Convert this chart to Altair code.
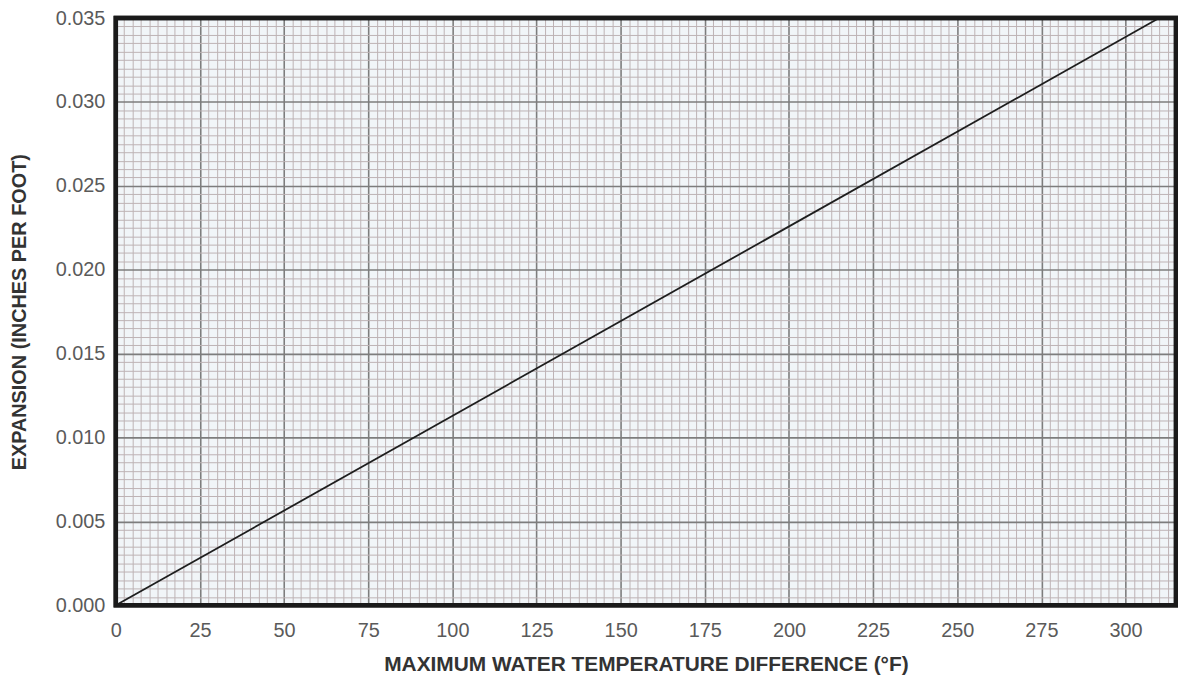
import altair as alt
import pandas as pd
import numpy as np

# Data
temp_diff = [0, 310]             # °F
expansion = [0.0, 0.035]         # inches per foot

# Axis grid positions (tick values)
x_grid = [round(v, 1) for v in np.arange(0, 315.01, 2.5)]
y_grid = [round(k * 0.0005, 4) for k in range(71)]

W, H = 1067, 591
FONT = "Liberation Sans"

df = pd.DataFrame({"t": temp_diff, "e": expansion})

x_axis = alt.Axis(
    values=x_grid,
    labelExpr="datum.value % 25 === 0 ? datum.label : ''",
    labelOverlap=False, labelFlush=False, labelBound=False,
    ticks=False, domain=False,
    grid=True,
    gridColor={"condition": {"test": "datum.value % 25 === 0", "value": "#7d7d7d"}, "value": "#bdb2b4"},
    gridWidth={"condition": {"test": "datum.value % 25 === 0", "value": 1.6}, "value": 1.0},
    labelFont=FONT, labelFontSize=20, labelColor="#5a5a5a", labelPadding=15,
    title="MAXIMUM WATER TEMPERATURE DIFFERENCE (°F)",
    titleFont=FONT, titleFontSize=21, titleFontWeight="bold", titleColor="#333333",
    titleX=W / 2, titleY=60, titleAlign="center", titleBaseline="middle",
)

y_test = "abs(datum.value*200 - round(datum.value*200)) < 1e-6"
y_axis = alt.Axis(
    values=y_grid,
    format=".3f",
    labelExpr=f"{y_test} ? datum.label : ''",
    labelOverlap=False, labelFlush=False, labelBound=False,
    ticks=False, domain=False,
    grid=True,
    gridColor={"condition": {"test": y_test, "value": "#7d7d7d"}, "value": "#bdb2b4"},
    gridWidth={"condition": {"test": y_test, "value": 1.6}, "value": 1.0},
    labelFont=FONT, labelFontSize=20, labelColor="#5a5a5a", labelPadding=11,
    title="EXPANSION (INCHES PER FOOT)",
    titleFont=FONT, titleFontSize=20, titleFontWeight="bold", titleColor="#333333",
    titleX=-97, titleY=H / 2, titleAngle=270, titleAlign="center", titleBaseline="middle",
)

line = alt.Chart(df).mark_line(color="#1e1e1e", strokeWidth=1.8).encode(
    x=alt.X("t:Q", scale=alt.Scale(domain=[0, 315], nice=False, zero=False), axis=x_axis),
    y=alt.Y("e:Q", scale=alt.Scale(domain=[0, 0.035], nice=False, zero=False), axis=y_axis),
)

frame = alt.Chart(df).mark_rect(fill=None, stroke="#1a1a1a", strokeWidth=4.5).encode(
    x=alt.value(0), x2=alt.value(W), y=alt.value(0), y2=alt.value(H)
)

chart = alt.layer(line, frame).properties(
    width=W, height=H,
    autosize=alt.AutoSizeParams(type="none"),
    padding={"left": 108.5, "top": 8, "right": 2, "bottom": 68},
    background="#ffffff",
).configure_view(
    fill="#f1f5f8", stroke=None
)

chart.save("out.html", embed_options={"renderer": "svg", "actions": False})
